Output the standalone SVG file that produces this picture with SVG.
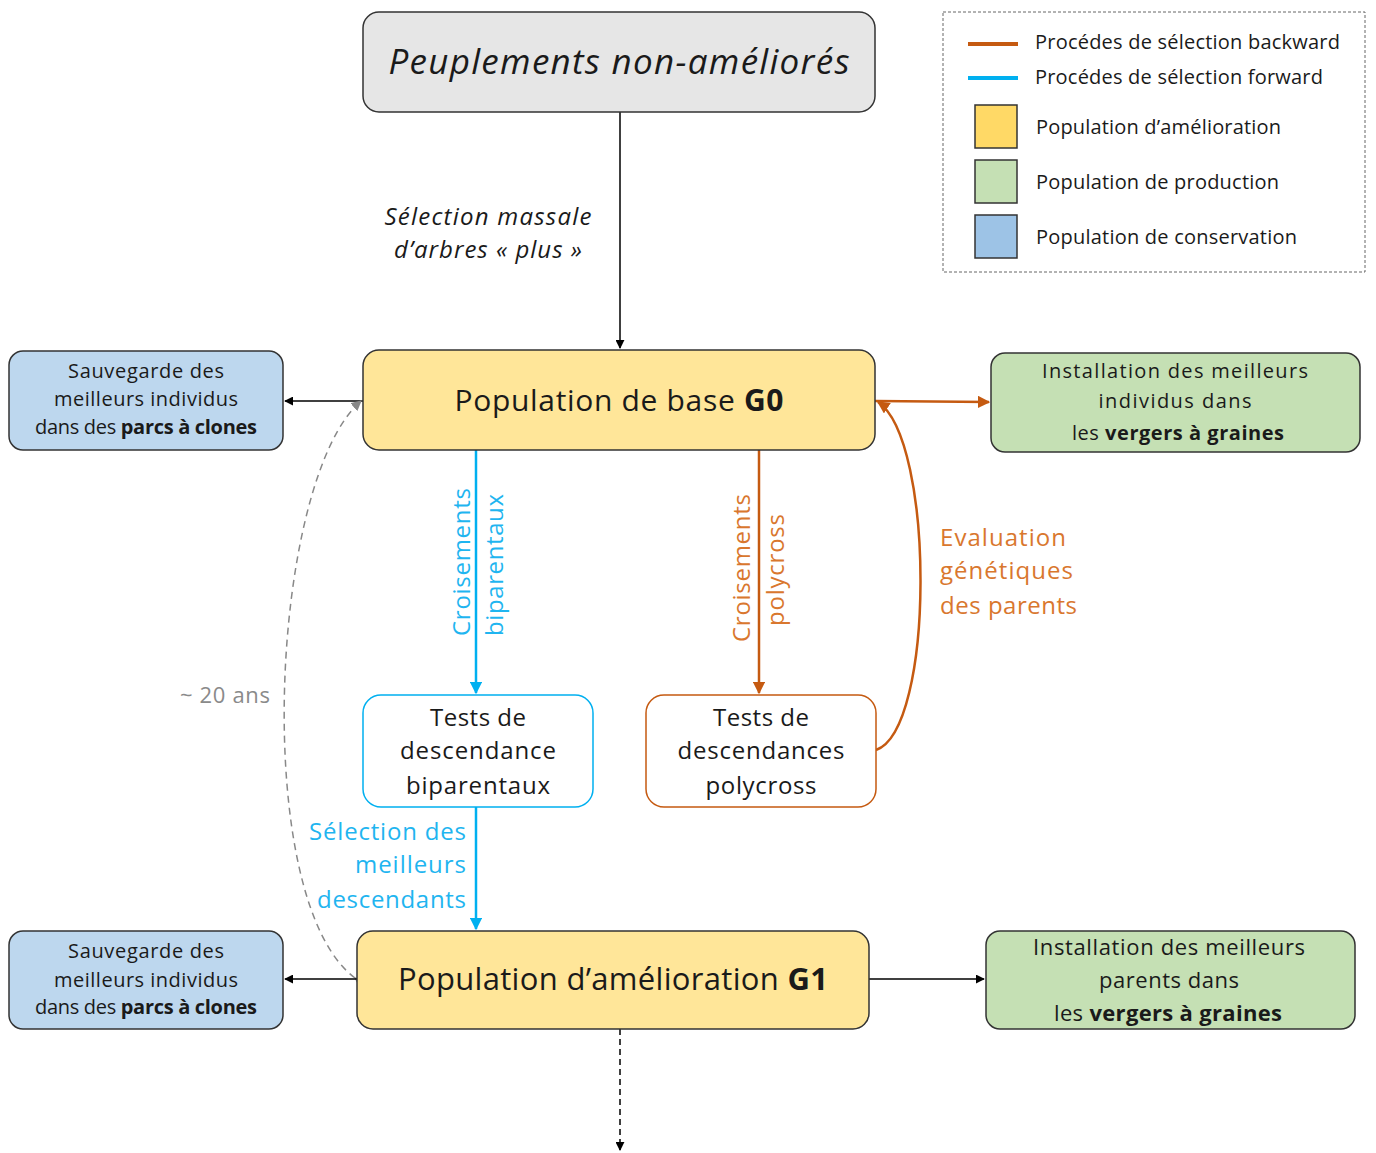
<svg xmlns="http://www.w3.org/2000/svg" width="1376" height="1153" viewBox="0 0 1376 1153">
<style>
text{font-family:"Open Sans",Lato,"Liberation Sans",sans-serif;fill:#1a1a1a}
.box{stroke:#333;stroke-width:1.5}
.yel{fill:#ffe699}
.grn{fill:#c5e0b4}
.blu{fill:#bdd7ee}
.gry{fill:#e6e6e6}
.blk{stroke:#000;stroke-width:1.5;fill:none}
.org{stroke:#c55a11;stroke-width:2.5;fill:none}
.cyn{stroke:#00b0f0;stroke-width:2.5;fill:none}
.t20{font-size:20px}
.t24{font-size:24px}
.c{text-anchor:middle}
.otxt{fill:#d9772e}
.btxt{fill:#1fb5f0}
</style>
<defs>
<marker id="ab" viewBox="0 0 10 10" refX="9" refY="5" markerWidth="6" markerHeight="6" orient="auto"><path d="M0,0L10,5L0,10z" fill="#000"/></marker>
<marker id="ao" viewBox="0 0 10 10" refX="9" refY="5" markerWidth="5" markerHeight="5" orient="auto"><path d="M0,0L10,5L0,10z" fill="#c55a11"/></marker>
<marker id="ac" viewBox="0 0 10 10" refX="9" refY="5" markerWidth="5" markerHeight="5" orient="auto"><path d="M0,0L10,5L0,10z" fill="#00b0f0"/></marker>
<marker id="ag" viewBox="0 0 10 10" refX="9" refY="5" markerWidth="7" markerHeight="7" orient="auto"><path d="M0,0L10,5L0,10z" fill="#888"/></marker>
</defs>

<g id="connectors">
<line class="blk" x1="620" y1="112" x2="620" y2="348" marker-end="url(#ab)"/>
<line class="blk" x1="363" y1="401" x2="285" y2="401" marker-end="url(#ab)"/>
<line class="org" x1="875" y1="401" x2="989" y2="402" stroke-width="2" marker-end="url(#ao)"/>
<line class="cyn" x1="476" y1="450" x2="476" y2="693" marker-end="url(#ac)"/>
<line class="org" x1="759" y1="450" x2="759" y2="693" marker-end="url(#ao)"/>
<path class="org" d="M876,750 C935,730 935,440 878,402" marker-end="url(#ao)"/>
<line class="cyn" x1="476" y1="807" x2="476" y2="929" marker-end="url(#ac)"/>
<path d="M355,978 C250,900 270,480 361,401" fill="none" stroke="#888" stroke-width="1.5" stroke-dasharray="7,5" marker-start="url(#ag)" marker-end="url(#ag)"/>
<line class="blk" x1="357" y1="979" x2="285" y2="979" marker-end="url(#ab)"/>
<line class="blk" x1="869" y1="979" x2="984" y2="979" marker-end="url(#ab)"/>
<line class="blk" x1="620" y1="1029" x2="620" y2="1150" stroke-dasharray="6,4" marker-end="url(#ab)"/>
<text x="488" y="225" text-anchor="middle" font-style="italic" font-size="24" textLength="207">Sélection massale</text>
<text x="488" y="258" text-anchor="middle" font-style="italic" font-size="24" textLength="188">d’arbres « plus »</text>
<text class="t24 btxt c" transform="translate(470,562) rotate(-90)" textLength="148">Croisements</text>
<text class="t24 btxt c" transform="translate(503,565) rotate(-90)" textLength="142">biparentaux</text>
<text class="t24 otxt c" transform="translate(750,568) rotate(-90)" textLength="148">Croisements</text>
<text class="t24 otxt c" transform="translate(784,570) rotate(-90)" textLength="112">polycross</text>
<text class="t24 otxt" x="940" y="546" textLength="126">Evaluation</text>
<text class="t24 otxt" x="940" y="579" textLength="133">génétiques</text>
<text class="t24 otxt" x="940" y="614" textLength="137">des parents</text>
<text class="t24 btxt" x="466" y="840" text-anchor="end" textLength="157">Sélection des</text>
<text class="t24 btxt" x="466" y="873" text-anchor="end" textLength="111">meilleurs</text>
<text class="t24 btxt" x="466" y="908" text-anchor="end" textLength="149">descendants</text>
<text x="270" y="703" text-anchor="end" font-size="22" style="fill:#8a8a8a" textLength="90">~ 20 ans</text>
</g>

<g id="n-top">
<rect class="box gry" x="363" y="12" width="512" height="100" rx="16"/>
<text x="619" y="74" class="c" font-size="35" font-style="italic" textLength="461">Peuplements non-améliorés</text>
</g>

<g id="n-g0">
<rect class="box yel" x="363" y="350" width="512" height="100" rx="16"/>
<text x="619" y="411" class="c" font-size="30" textLength="329">Population de base <tspan font-weight="bold">G0</tspan></text>
</g>

<g id="n-cons0">
<rect class="box blu" x="9" y="351" width="274" height="99" rx="14"/>
<text class="t20 c" x="146" y="378" textLength="156">Sauvegarde des</text>
<text class="t20 c" x="146" y="406" textLength="184">meilleurs individus</text>
<text class="t20 c" x="146" y="434" textLength="222">dans des <tspan font-weight="bold">parcs à clones</tspan></text>
</g>

<g id="n-prod0">
<rect class="box grn" x="991" y="353" width="369" height="99" rx="14"/>
<text class="t20 c" x="1175" y="378" textLength="266">Installation des meilleurs</text>
<text class="t20 c" x="1175" y="408" textLength="153">individus dans</text>
<text class="t20 c" x="1178" y="440" textLength="212">les <tspan font-weight="bold">vergers à graines</tspan></text>
</g>

<g id="n-testbi">
<rect x="363" y="695" width="230" height="112" rx="18" fill="#fff" stroke="#00b0f0" stroke-width="1.5"/>
<text class="t24 c" x="478" y="726" textLength="96">Tests de</text>
<text class="t24 c" x="478" y="759" textLength="156">descendance</text>
<text class="t24 c" x="478" y="794" textLength="144">biparentaux</text>
</g>

<g id="n-testpoly">
<rect x="646" y="695" width="230" height="112" rx="18" fill="#fff" stroke="#c55a11" stroke-width="1.5"/>
<text class="t24 c" x="761" y="726" textLength="96">Tests de</text>
<text class="t24 c" x="761" y="759" textLength="167">descendances</text>
<text class="t24 c" x="761" y="794" textLength="111">polycross</text>
</g>

<g id="n-g1">
<rect class="box yel" x="357" y="931" width="512" height="98" rx="16"/>
<text x="613" y="990" class="c" font-size="31" textLength="430">Population d’amélioration <tspan font-weight="bold">G1</tspan></text>
</g>

<g id="n-cons1">
<rect class="box blu" x="9" y="931" width="274" height="98" rx="14"/>
<text class="t20 c" x="146" y="958" textLength="156">Sauvegarde des</text>
<text class="t20 c" x="146" y="987" textLength="184">meilleurs individus</text>
<text class="t20 c" x="146" y="1014" textLength="222">dans des <tspan font-weight="bold">parcs à clones</tspan></text>
</g>

<g id="n-prod1">
<rect class="box grn" x="986" y="931" width="369" height="98" rx="14"/>
<text class="c" x="1169" y="955" font-size="22" textLength="272">Installation des meilleurs</text>
<text class="c" x="1169" y="988" font-size="22" textLength="140">parents dans</text>
<text class="c" x="1168" y="1021" font-size="22" textLength="228">les <tspan font-weight="bold">vergers à graines</tspan></text>
</g>

<g id="legend">
<rect x="943" y="12" width="422" height="260" fill="none" stroke="#666" stroke-width="1" stroke-dasharray="3,2"/>
<line x1="968" y1="44" x2="1018" y2="44" stroke="#c55a11" stroke-width="4"/>
<line x1="968" y1="78" x2="1018" y2="78" stroke="#00b0f0" stroke-width="4"/>
<text class="t20" x="1035" y="49" textLength="305">Procédes de sélection backward</text>
<text class="t20" x="1035" y="84" textLength="288">Procédes de sélection forward</text>
<rect class="box yel" x="975" y="105" width="42" height="43" style="fill:#ffd966"/>
<rect class="box grn" x="975" y="160" width="42" height="43"/>
<rect class="box" x="975" y="215" width="42" height="43" fill="#9dc3e6"/>
<text class="t20" x="1036" y="134" textLength="245">Population d’amélioration</text>
<text class="t20" x="1036" y="189" textLength="243">Population de production</text>
<text class="t20" x="1036" y="244" textLength="261">Population de conservation</text>
</g>
</svg>
